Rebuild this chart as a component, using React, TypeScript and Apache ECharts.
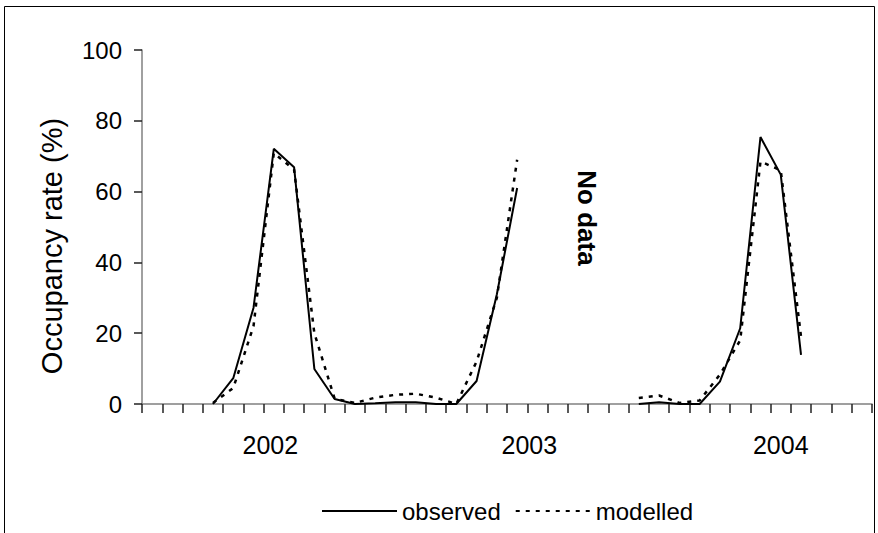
import React, { useEffect, useRef } from "react";
import * as echarts from "echarts";

const MONTHS = [
  "m01", "m02", "m03", "m04", "m05", "m06", "m07", "m08", "m09", "m10", "m11", "m12",
  "m13", "m14", "m15", "m16", "m17", "m18", "m19", "m20", "m21", "m22", "m23", "m24",
  "m25", "m26", "m27", "m28", "m29", "m30", "m31", "m32", "m33", "m34", "m35", "m36",
];

const OBSERVED = [
  null, null, null, 0, 7.3, 27.2, 72.1, 66.9, 9.9, 1.4, 0, 0.2,
  0.5, 0.5, 0, 0, 6.5, 31, 61, null, null, null, null, null,
  0, 0.5, 0, 0, 6.3, 21.4, 75.4, 64.8, 13.9, null, null, null,
];

const MODELLED = [
  null, null, null, 0.3, 4.5, 22, 70.9, 66.2, 20, 1.5, 0.3, 1.8,
  2.6, 2.9, 1.8, 0, 12, 30, 69, null, null, null, null, null,
  1.7, 2.4, 0.3, 1, 8.3, 18, 68.5, 66, 19, null, null, null,
];

const YEAR_LABELS = ["2002", "2003", "2004"];
const YEAR_LABEL_AT = [6.33, 19.1, 31.5];

const SERIES_NAMES = ["observed", "modelled"];
const Y_TITLE = "Occupancy rate (%)";
const NOTE = "No data";

const FONT = "'Liberation Sans', Arial, sans-serif";

export default function App() {
  const ref = useRef<HTMLDivElement>(null);

  useEffect(() => {
    if (!ref.current) return;
    const chart = echarts.init(ref.current, undefined, { renderer: "svg" });
    chart.setOption({
      animation: false,
      backgroundColor: "#ffffff",
      textStyle: { fontFamily: FONT, color: "#000" },
      grid: { left: 142, right: 6, top: 50, bottom: 129, containLabel: false },
      legend: {
        data: SERIES_NAMES,
        left: 316,
        top: 492,
        itemWidth: 75,
        itemHeight: 14,
        itemGap: 14,
        itemStyle: { opacity: 0 },
        textStyle: { fontFamily: FONT, fontSize: 24, color: "#000", lineHeight: 28 },
      },
      xAxis: [
        {
          type: "category",
          data: MONTHS,
          boundaryGap: true,
          axisLine: { lineStyle: { color: "#808080", width: 1.5 } },
          axisTick: { show: true, interval: 0, length: 9, lineStyle: { color: "#222", width: 1.5 } },
          axisLabel: { show: false },
          splitLine: { show: false },
        },
        {
          type: "value",
          min: 0,
          max: MONTHS.length,
          position: "bottom",
          axisLine: { show: false },
          axisTick: { show: false },
          splitLine: { show: false },
          axisLabel: {
            customValues: YEAR_LABEL_AT,
            formatter: (v: number) => {
              const i = YEAR_LABEL_AT.findIndex((p) => Math.abs(p - v) < 0.01);
              return i >= 0 ? YEAR_LABELS[i] : "";
            },
            fontFamily: FONT,
            fontSize: 25,
            color: "#000",
            margin: 28,
          },
        },
      ],
      yAxis: {
        type: "value",
        min: 0,
        max: 100,
        interval: 20,
        axisLine: { show: true, lineStyle: { color: "#808080", width: 1.5 } },
        axisTick: { show: true, length: 8, lineStyle: { color: "#222", width: 1.5 } },
        axisLabel: { fontFamily: FONT, fontSize: 24, color: "#000", margin: 20 },
        splitLine: { show: false },
      },
      graphic: [
        {
          type: "rect",
          shape: { x: 4.5, y: 6.5, width: 870, height: 560 },
          style: { fill: "none", stroke: "#000", lineWidth: 1 },
          silent: true,
          z: -1,
        },
        {
          type: "text",
          x: 52,
          y: 246,
          rotation: Math.PI / 2,
          style: {
            text: Y_TITLE,
            fontFamily: FONT,
            fontSize: 29,
            fill: "#000",
            align: "center",
            verticalAlign: "middle",
          },
        },
        {
          type: "text",
          x: 587,
          y: 218,
          rotation: -Math.PI / 2,
          style: {
            text: NOTE,
            fontFamily: FONT,
            fontSize: 26,
            fontWeight: "bold",
            fill: "#000",
            align: "center",
            verticalAlign: "middle",
          },
        },
      ],
      series: [
        {
          name: SERIES_NAMES[0],
          type: "line",
          data: OBSERVED,
          symbol: "none",
          connectNulls: false,
          lineStyle: { color: "#000", width: 2, type: "solid" },
          itemStyle: { color: "#000" },
        },
        {
          name: SERIES_NAMES[1],
          type: "line",
          data: MODELLED,
          symbol: "none",
          connectNulls: false,
          lineStyle: { color: "#000", width: 2.5, type: [4, 6] },
          itemStyle: { color: "#000" },
        },
      ],
    });
    return () => chart.dispose();
  }, []);

  return (
    <div
      ref={ref}
      style={{ position: "fixed", left: 0, top: 0, width: 878, height: 533 }}
    />
  );
}
